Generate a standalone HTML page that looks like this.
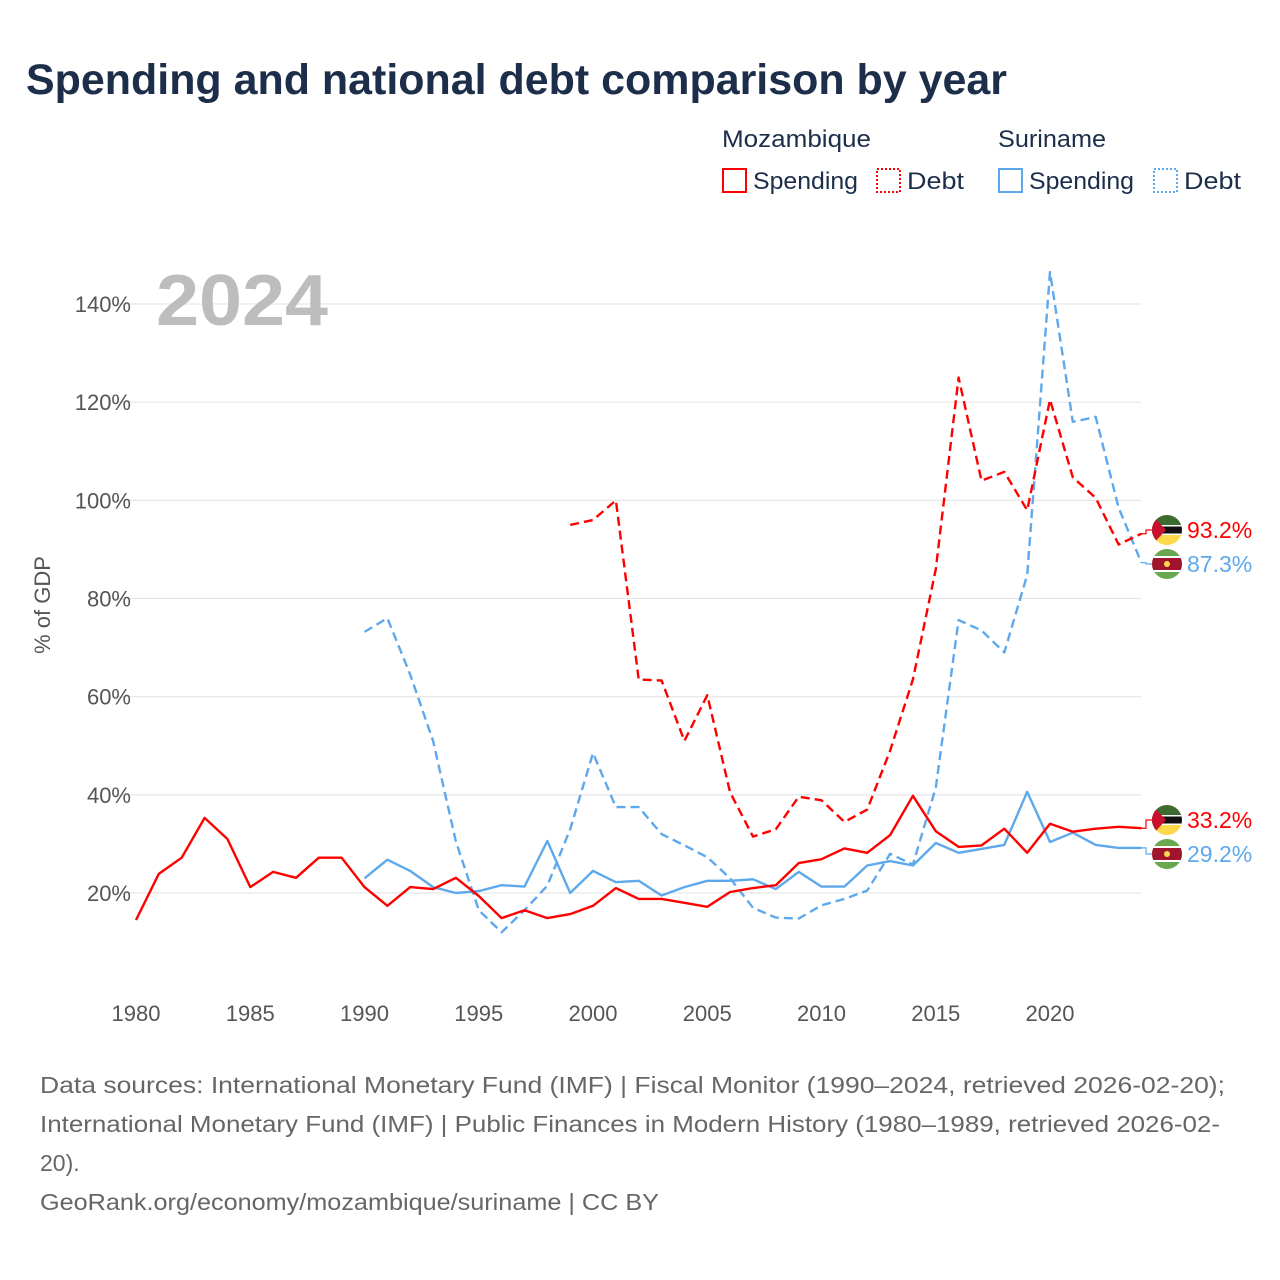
<!DOCTYPE html>
<html><head><meta charset="utf-8"><style>
body{margin:0;background:#fff;}
svg{display:block;font-family:"Liberation Sans",sans-serif;}
</style></head><body>
<svg width="1280" height="1280" viewBox="0 0 1280 1280">
<text x="26" y="94" font-size="43" font-weight="bold" fill="#1c2e4a" textLength="981" lengthAdjust="spacingAndGlyphs">Spending and national debt comparison by year</text>
<g font-size="24" fill="#1c2e4a">
<text x="722" y="147" textLength="149" lengthAdjust="spacingAndGlyphs">Mozambique</text>
<text x="998" y="147" textLength="108" lengthAdjust="spacingAndGlyphs">Suriname</text>
<g><rect x="723" y="169" width="23" height="23" fill="none" stroke="#f00" stroke-width="2"/><text x="753" y="189" textLength="105" lengthAdjust="spacingAndGlyphs">Spending</text></g>
<g><rect x="877" y="169" width="23" height="23" fill="none" stroke="#f00" stroke-width="2" stroke-dasharray="2,2"/><text x="907" y="189" textLength="57" lengthAdjust="spacingAndGlyphs">Debt</text></g>
<g><rect x="999" y="169" width="23" height="23" fill="none" stroke="#5ea8ec" stroke-width="2"/><text x="1029" y="189" textLength="105" lengthAdjust="spacingAndGlyphs">Spending</text></g>
<g><rect x="1154" y="169" width="23" height="23" fill="none" stroke="#5ea8ec" stroke-width="2" stroke-dasharray="2,2"/><text x="1184" y="189" textLength="57" lengthAdjust="spacingAndGlyphs">Debt</text></g>
</g>
<g id="grid"></g>
<text x="156" y="325" font-size="72" font-weight="bold" fill="#bdbdbd" textLength="172" lengthAdjust="spacingAndGlyphs">2024</text>
<text transform="translate(50,605) rotate(-90)" text-anchor="middle" font-size="22" fill="#555">% of GDP</text>
<g id="yticks" font-size="22" fill="#555" text-anchor="end"></g>
<g id="xticks" font-size="22" fill="#555" text-anchor="middle"></g>
<g id="series"></g>
<g id="ends"></g>
<g font-size="23" fill="#666">
<text x="40" y="1093" textLength="1185" lengthAdjust="spacingAndGlyphs">Data sources: International Monetary Fund (IMF) | Fiscal Monitor (1990–2024, retrieved 2026-02-20);</text>
<text x="40" y="1132" textLength="1180" lengthAdjust="spacingAndGlyphs">International Monetary Fund (IMF) | Public Finances in Modern History (1980–1989, retrieved 2026-02-</text>
<text x="40" y="1171">20).</text>
<text x="40" y="1210" textLength="619" lengthAdjust="spacingAndGlyphs">GeoRank.org/economy/mozambique/suriname | CC BY</text>
</g>
</svg>
<script>
const yTicks=[20,40,60,80,100,120,140];
const xTicks=[1980,1985,1990,1995,2000,2005,2010,2015,2020];
const mozSpendStart=1980;
const mozSpending=[14.5,23.9,27.2,35.3,31.0,21.2,24.3,23.1,27.2,27.2,21.2,17.4,21.2,20.8,23.1,19.4,14.9,16.5,14.9,15.7,17.4,21.0,18.8,18.8,18.0,17.2,20.2,21.0,21.6,26.1,26.9,29.1,28.2,31.8,39.8,32.6,29.4,29.7,33.1,28.2,34.1,32.5,33.1,33.5,33.2];
const mozDebtStart=1999;
const mozDebt=[95,96,100,63.5,63.3,51,60.3,40.5,31.5,33,39.6,38.9,34.5,37,49,63.5,86,125,104,105.8,98,120.5,104.7,100.5,91,93.2];
const surStart=1990;
const surSpending=[23,26.8,24.5,21.2,20,20.4,21.6,21.3,30.6,20,24.5,22.2,22.5,19.5,21.2,22.5,22.5,22.8,20.8,24.3,21.3,21.3,25.6,26.5,25.6,30.2,28.2,29,29.8,40.6,30.4,32.3,29.8,29.2,29.2];
const surDebt=[73.2,76,64.5,51,30.5,16.5,12,16.5,21.5,33,48.5,37.5,37.5,32,29.7,27.3,23,17,15,14.8,17.5,18.8,20.5,28,25.8,41.5,75.6,73.5,69,84.8,146.5,116,117,98.5,87.3];
const NS="http://www.w3.org/2000/svg";
const X=yr=>136+(yr-1980)*22.85;
const Y=v=>991.2-v*4.9085;
function mk(t,a,p){const e=document.createElementNS(NS,t);for(const k in a)e.setAttribute(k,a[k]);p.appendChild(e);return e;}
const grid=document.getElementById('grid'),yt=document.getElementById('yticks'),xt=document.getElementById('xticks');
yTicks.forEach(v=>{
 const l=mk('line',{x1:112,x2:1141,y1:Y(v),y2:Y(v),stroke:'#e6e6e6','stroke-width':1.2},grid);
 
 
 const t=mk('text',{x:131,y:Y(v)+8},yt);t.textContent=v+'%';
 
 
});
xTicks.forEach(v=>{
 const t=mk('text',{x:X(v),y:1021},xt);t.textContent=v;
 
 
});
const ser=document.getElementById('series');
function line(arr,start,color,dash,name){
 const pts=arr.map((v,i)=>X(start+i).toFixed(1)+','+Y(v).toFixed(1)).join(' ');
 const p=mk('polyline',{points:pts,fill:'none',stroke:color,'stroke-width':2.4,'stroke-linejoin':'round'},ser);
 if(dash)p.setAttribute('stroke-dasharray','9,5');
 
 
}
line(surDebt,surStart,'#5ea8ec',true,'line-suriname-debt');
line(surSpending,surStart,'#5ea8ec',false,'line-suriname-spending');
line(mozDebt,mozDebtStart,'#f00',true,'line-mozambique-debt');
line(mozSpending,mozSpendStart,'#f00',false,'line-mozambique-spending');
const ends=document.getElementById('ends');
function flag(cy,type){
 const g=mk('g',{},ends);
 
 
 const id='c'+Math.round(cy);
 const cp=mk('clipPath',{id:id},g);mk('circle',{cx:1167,cy:cy,r:15},cp);
 const h=mk('g',{'clip-path':'url(#'+id+')'},g);
 if(type==='mozambique'){
  mk('rect',{x:1150,y:cy-15,width:34,height:10,fill:'#3d6a2e'},h);
  mk('rect',{x:1150,y:cy-5,width:34,height:10,fill:'#111'},h);
  mk('rect',{x:1150,y:cy-5,width:34,height:1.5,fill:'#fff'},h);
  mk('rect',{x:1150,y:cy+3.5,width:34,height:1.5,fill:'#fff'},h);
  mk('rect',{x:1150,y:cy+5,width:34,height:10,fill:'#fcd84a'},h);
  mk('polygon',{points:`1152,${cy-15} 1166,${cy} 1152,${cy+15}`,fill:'#c8102e'},h);
 }else{
  mk('rect',{x:1150,y:cy-15,width:34,height:30,fill:'#6aa84f'},h);
  mk('rect',{x:1150,y:cy-8,width:34,height:16,fill:'#fff'},h);
  mk('rect',{x:1150,y:cy-6,width:34,height:12,fill:'#a0142c'},h);
  mk('circle',{cx:1167,cy:cy,r:3,fill:'#fcd84a'},h);
 }
}
function endLabel(v,ly,color,type,name){
 const e=mk('polyline',{points:`1141,${Y(v)} 1146,${Y(v)} 1146,${ly} 1152,${ly}`,fill:'none',stroke:color,'stroke-width':1.2},ends);
 
 
 flag(ly,type);
 const t=mk('text',{x:1187,y:ly+8,'font-size':23,fill:color},ends);t.textContent=v.toFixed(1)+'%';
 
 
}
endLabel(mozDebt[mozDebt.length-1],530,'#f00','mozambique','end-label-mozambique-debt');
endLabel(surDebt[surDebt.length-1],564,'#5ea8ec','suriname','end-label-suriname-debt');
endLabel(mozSpending[mozSpending.length-1],820,'#f00','mozambique','end-label-mozambique-spending');
endLabel(surSpending[surSpending.length-1],854,'#5ea8ec','suriname','end-label-suriname-spending');
</script>
</body></html>
